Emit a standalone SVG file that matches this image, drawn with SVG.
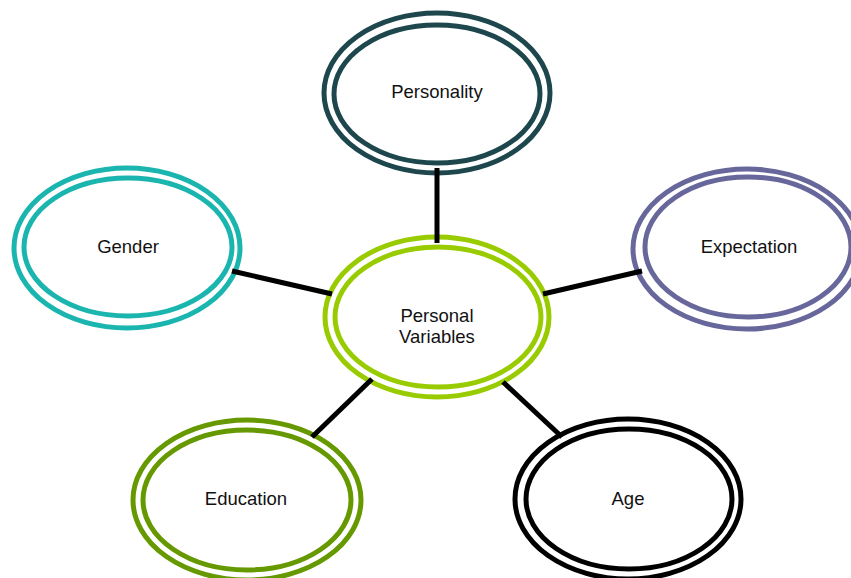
<svg xmlns="http://www.w3.org/2000/svg" width="851" height="578" viewBox="0 0 851 578">
<style>
.ring{fill:none;stroke-width:5}
.lbl{font-family:"Liberation Sans",Arial,sans-serif;font-size:18.5px;fill:#111;text-anchor:middle}
.conn{stroke:#000;stroke-width:5;stroke-linecap:butt;fill:none}
</style>
<rect width="851" height="578" fill="#fff"/>
<g id="personality">
<ellipse class="ring" cx="437" cy="93" rx="113" ry="80" stroke="#1d474d"/>
<ellipse class="ring" cx="437" cy="94" rx="103" ry="69" stroke="#1d474d"/>
<text class="lbl" x="437" y="98">Personality</text>
</g>
<g id="gender">
<ellipse class="ring" cx="127" cy="248" rx="113" ry="80" stroke="#1ab5ae"/>
<ellipse class="ring" cx="128" cy="247" rx="104" ry="69" stroke="#1ab5ae"/>
<text class="lbl" x="128" y="253">Gender</text>
</g>
<g id="expectation">
<ellipse class="ring" cx="747" cy="249" rx="114" ry="80" stroke="#67679b"/>
<ellipse class="ring" cx="748" cy="247" rx="103" ry="70" stroke="#67679b"/>
<text class="lbl" x="749" y="253">Expectation</text>
</g>
<g id="personal-variables">
<ellipse class="ring" cx="437" cy="317" rx="112" ry="80" stroke="#99cc00"/>
<ellipse class="ring" cx="438" cy="317" rx="103" ry="70" stroke="#99cc00"/>
<text class="lbl" x="437" y="322">Personal</text>
<text class="lbl" x="437" y="343">Variables</text>
</g>
<g id="education">
<ellipse class="ring" cx="247" cy="500" rx="114" ry="80" stroke="#669900"/>
<ellipse class="ring" cx="247" cy="500" rx="104" ry="70" stroke="#669900"/>
<text class="lbl" x="246" y="505">Education</text>
</g>
<g id="age">
<ellipse class="ring" cx="628" cy="499" rx="113" ry="80" stroke="#000"/>
<ellipse class="ring" cx="629" cy="499" rx="103" ry="70" stroke="#000"/>
<text class="lbl" x="628" y="505">Age</text>
</g>
<g id="connectors">
<line class="conn" x1="437" y1="168" x2="437" y2="243"/>
<line class="conn" x1="232" y1="271" x2="332" y2="294"/>
<line class="conn" x1="543" y1="294" x2="642" y2="271"/>
<line class="conn" x1="312" y1="437" x2="372" y2="379"/>
<line class="conn" x1="503" y1="382" x2="562" y2="437"/>
</g>
</svg>
